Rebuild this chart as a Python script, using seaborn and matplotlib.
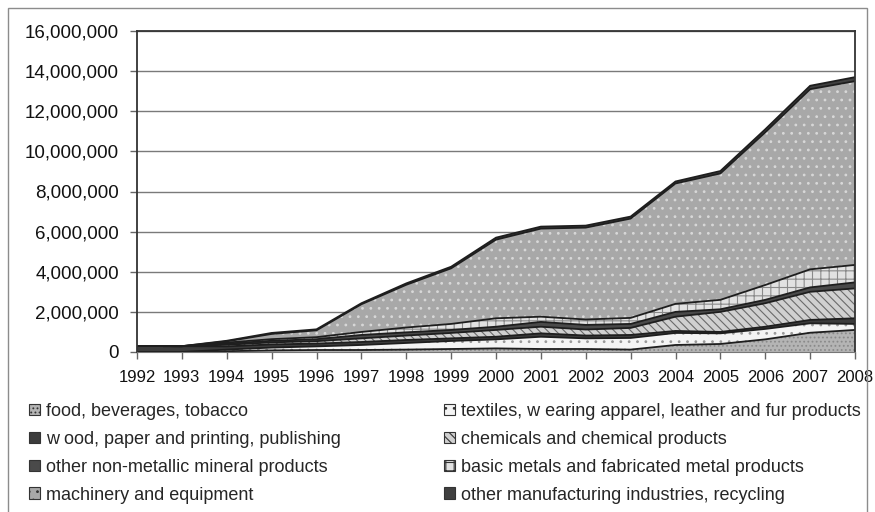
import numpy as np
import pandas as pd
import matplotlib
matplotlib.use("Agg")
import matplotlib.pyplot as plt
import seaborn as sns
from matplotlib.patches import Patch, Rectangle
from matplotlib.ticker import FuncFormatter

years = list(range(1992, 2009))

# values in thousands
food = [0, 0, 40, 80, 100, 100, 120, 150, 180, 150, 150, 120, 350, 400, 630, 960, 1100]
textiles = [0, 0, 80, 140, 180, 250, 330, 400, 450, 610, 530, 580, 600, 530, 520, 470, 300]
wood = [300, 290, 160, 160, 140, 150, 150, 130, 130, 170, 140, 150, 100, 70, 110, 170, 280]
chemicals = [0, 0, 80, 100, 120, 180, 220, 270, 340, 330, 300, 350, 710, 1000, 1170, 1400, 1490]
nonmetal = [0, 0, 60, 80, 100, 170, 160, 150, 160, 240, 230, 200, 240, 130, 170, 220, 300]
metals = [0, 0, 50, 80, 100, 150, 240, 300, 420, 260, 270, 300, 400, 470, 740, 900, 870]
machinery = [0, 0, 60, 260, 340, 1380, 2130, 2770, 3920, 4390, 4580, 4950, 6000, 6300, 7610, 8980, 9160]
other = [0, 0, 30, 50, 50, 50, 70, 80, 100, 100, 100, 100, 100, 120, 150, 170, 200]

labels = [
    "food, beverages, tobacco",
    "textiles, w earing apparel, leather and fur products",
    "w ood, paper and printing, publishing",
    "chemicals and chemical products",
    "other non-metallic mineral products",
    "basic metals and fabricated metal products",
    "machinery and equipment",
    "other manufacturing industries, recycling",
]

df = pd.DataFrame(
    {
        labels[0]: food,
        labels[1]: textiles,
        labels[2]: wood,
        labels[3]: chemicals,
        labels[4]: nonmetal,
        labels[5]: metals,
        labels[6]: machinery,
        labels[7]: other,
    },
    index=years,
) * 1000

sns.set_style("white")
plt.rcParams["font.family"] = ["Liberation Sans", "DejaVu Sans"]
plt.rcParams["hatch.linewidth"] = 0.8

fills = ["#b4b4b4", "#f4f4f4", "#3c3c3c", "#d0d0d0", "#4a4a4a", "#e2e2e2", "#a8a8a8", "#404040"]
hatches = ["....", "..", None, "\\\\\\\\", None, "++", "..", None]
hatch_cols = ["#8a8a8a", "#9a9a9a", None, "#6a6a6a", None, "#8a8a8a", "#d8d8d8", None]

fig = plt.figure(figsize=(8.75, 5.12), dpi=100)
ax = fig.add_axes([137 / 875, 1 - 352 / 512, (855 - 137) / 875, (352 - 31) / 512])

x = np.array(years)
vals = df.values.T
ax.stackplot(x, vals, colors=fills, edgecolor="none", linewidth=0)

cum = np.cumsum(vals, axis=0)
lower = np.vstack([np.zeros_like(cum[0]), cum[:-1]])
for i in range(len(labels)):
    if hatches[i]:
        ax.fill_between(x, lower[i], cum[i], facecolor="none", edgecolor=hatch_cols[i],
                        hatch=hatches[i], linewidth=0)
for i in range(len(labels)):
    ax.plot(x, cum[i], color="#1e1e1e", lw=1.3)

ax.set_xlim(1992, 2008)
ax.set_ylim(0, 16000000)
ax.set_xticks(years)
ax.set_yticks(np.arange(0, 16000001, 2000000))
ax.yaxis.set_major_formatter(FuncFormatter(lambda v, p: f"{int(v):,}"))
ax.yaxis.grid(True, color="#7a7a7a", lw=1)
ax.set_axisbelow(True)
ax.tick_params(axis="both", which="both", direction="out", length=5, width=1,
               color="#666666", labelcolor="#111111", left=True, bottom=True)
ax.tick_params(axis="y", labelsize=13.5, pad=8)
ax.tick_params(axis="x", labelsize=12, pad=8)
for side in ["left", "top", "right"]:
    ax.spines[side].set_color("#333333")
    ax.spines[side].set_linewidth(1.3)
ax.spines["bottom"].set_color("#777777")

# legend in two separate columns, placed like the picture
handles = [Patch(facecolor=fills[i], edgecolor="#333333", hatch=hatches[i], lw=0.8, label=labels[i])
           for i in range(len(labels))]
leg_kw = dict(loc="upper left", frameon=False, fontsize=13, handlelength=0.6,
              handleheight=0.6, handletextpad=0.35, labelspacing=0.6,
              borderaxespad=0, borderpad=0)
col1 = [0, 2, 4, 6]
col2 = [1, 3, 5, 7]
fig.legend([handles[i] for i in col1], [labels[i] for i in col1],
           bbox_to_anchor=(29 / 875, 1 - 403 / 512), **leg_kw)
fig.legend([handles[i] for i in col2], [labels[i] for i in col2],
           bbox_to_anchor=(444 / 875, 1 - 403 / 512), **leg_kw)

fig.patches.append(Rectangle((8 / 875, -0.02), (867 - 8) / 875, (504 + 10) / 512,
                             transform=fig.transFigure, fill=False, edgecolor="#8c8c8c", lw=1))

fig.savefig("out.png", dpi=100)
